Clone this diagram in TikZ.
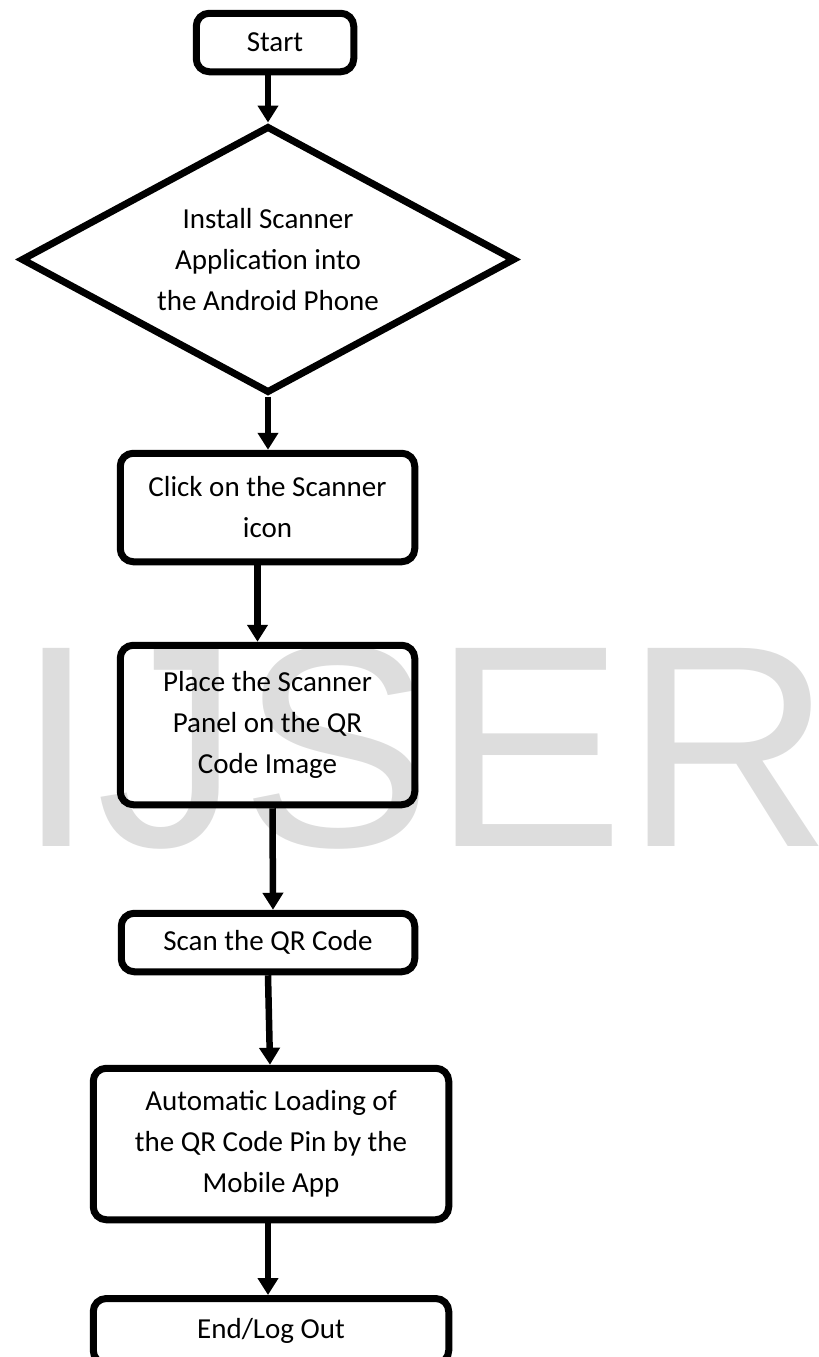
\documentclass[tikz,border=0pt]{standalone}
\usepackage{fontspec}
\setmainfont{Carlito}
\newfontfamily\wmfont{Liberation Sans}
\usetikzlibrary{shapes.geometric,arrows.meta}
\definecolor{wmgray}{RGB}{221,221,221}
\begin{document}
\begin{tikzpicture}[x=1pt,y=-1pt,
  txt/.style={font=\fontsize{29}{41}\selectfont},
  box/.style={draw, line width=7pt, rounded corners=13pt, align=center, inner sep=0pt, txt},
  dec/.style={draw, diamond, line width=7pt, inner sep=0pt, aspect=1.85, align=center, txt},
  flow/.style={line width=6.5pt, -{Triangle[width=20pt,length=17pt]}},
  wm/.style={anchor=base west, inner sep=0pt, text=wmgray, font=\wmfont\fontsize{288}{288}\selectfont}]
\useasboundingbox (0,0) rectangle (819,1357);
\clip (0,0) rectangle (819,1357);
\node[wm] (water) at (16,846) {IJSER};
\node[box, minimum width=157.5pt, minimum height=58.5pt] (start) at (275,42.5) {Start};
\node[dec, minimum width=494pt, minimum height=267pt] (install) at (268,259.5) {Install Scanner\\Application into\\the Android Phone};
\node[box, minimum width=294.5pt, minimum height=108.5pt] (click) at (267.5,507.5) {Click on the Scanner\\icon};
\node[box, minimum width=294.5pt, minimum height=159.5pt] (place) at (267.5,725) {Place the Scanner\\Panel on the QR\\Code Image};
\node[box, minimum width=293.5pt, minimum height=58.5pt] (scan) at (268,942.5) {Scan the QR Code};
\node[box, minimum width=355.5pt, minimum height=151.5pt] (auto) at (271,1144) {Automatic Loading of\\the QR Code Pin by the\\Mobile App};
\node[box, minimum width=355.5pt, minimum height=65pt] (end) at (271,1331) {End/Log Out};
\draw[flow] (start.south -| install.north) -- (install.north);
\draw[flow] (install.south) -- (click.north -| install.south);
\draw[flow] ([xshift=-10pt]click.south) -- ([xshift=-10pt]place.north);
\draw[flow] ([xshift=5pt]place.south) -- ([xshift=5pt]scan.north);
\draw[flow] (scan.south) -- ([xshift=-1pt]auto.north);
\draw[flow] ([xshift=-3pt]auto.south) -- ([xshift=-3pt]end.north);
\end{tikzpicture}
\end{document}
